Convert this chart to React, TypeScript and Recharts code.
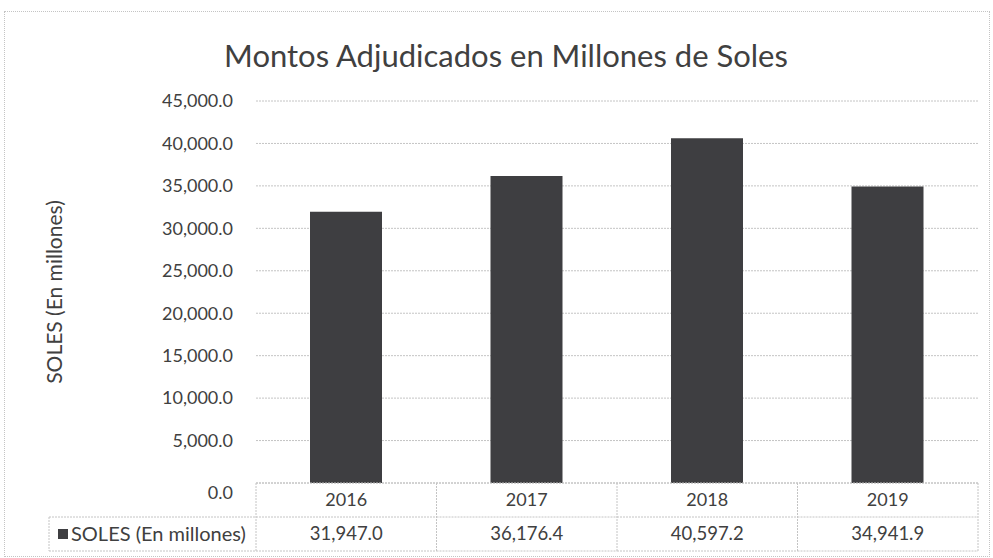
import React from 'react';
import { Bar, BarChart, CartesianGrid, XAxis, YAxis } from 'recharts';

const years = ['2016', '2017', '2018', '2019'];
const soles = [31947.0, 36176.4, 40597.2, 34941.9];
const yTicks = [0, 5000, 10000, 15000, 20000, 25000, 30000, 35000, 40000, 45000];

const seriesName = 'SOLES (En millones)';
const chartTitle = 'Montos Adjudicados en Millones de Soles';

const data = years.map((year, i) => ({ year, soles: soles[i] }));

const W = 993;
const H = 558;
const PLOT_LEFT = 256;
const PLOT_RIGHT = 978;
const BAND = (PLOT_RIGHT - PLOT_LEFT) / years.length;
const ROW = 34;
const LEGEND_LEFT = 49;

const FONT = 'Lato, "Open Sans", sans-serif';
const TEXT = '#404040';
const LINE = '#c4c4c4';
const BAR = '#3e3e41';

const fmt = (v: number) =>
  v.toLocaleString('en-US', { minimumFractionDigits: 1, maximumFractionDigits: 1 });

const YTick = (props: any) => {
  const { x, y, payload } = props;
  const shift = payload.value === 0 ? 10 : 0;
  return (
    <text x={x} y={y + shift} dy='0.35em' textAnchor='end' fontFamily={FONT} fontSize={18} fill={TEXT}>
      {fmt(payload.value)}
    </text>
  );
};

const TableTick = (props: any) => {
  const { x, y, index } = props;
  const left = x - BAND / 2;
  const right = x + BAND / 2;
  const i = index ?? 0;
  return (
    <g>
      <line x1={left} x2={right} y1={y + ROW} y2={y + ROW} stroke={LINE} strokeDasharray='2 1' />
      <line x1={left} x2={right} y1={y + 2 * ROW} y2={y + 2 * ROW} stroke={LINE} strokeDasharray='2 1' />
      <line x1={right} x2={right} y1={y} y2={y + 2 * ROW} stroke={LINE} strokeDasharray='2 1' />
      {i === 0 && (
        <g>
          <line x1={left} x2={left} y1={y} y2={y + 2 * ROW} stroke={LINE} strokeDasharray='2 1' />
          <line x1={LEGEND_LEFT} x2={left} y1={y + ROW} y2={y + ROW} stroke={LINE} strokeDasharray='2 1' />
          <line x1={LEGEND_LEFT} x2={left} y1={y + 2 * ROW} y2={y + 2 * ROW} stroke={LINE} strokeDasharray='2 1' />
          <line x1={LEGEND_LEFT} x2={LEGEND_LEFT} y1={y + ROW} y2={y + 2 * ROW} stroke={LINE} strokeDasharray='2 1' />
          <rect x={LEGEND_LEFT + 9} y={y + ROW + 12} width={10} height={10} fill={BAR} />
          <text x={LEGEND_LEFT + 22} y={y + ROW * 1.5} dy='0.35em' fontFamily={FONT} fontSize={20} fill={TEXT}>
            {seriesName}
          </text>
        </g>
      )}
      <text x={x} y={y + ROW / 2} dy='0.35em' textAnchor='middle' fontFamily={FONT} fontSize={18} fill={TEXT}>
        {years[i]}
      </text>
      <text x={x} y={y + ROW * 1.5} dy='0.35em' textAnchor='middle' fontFamily={FONT} fontSize={18.5} fill={TEXT}>
        {fmt(soles[i])}
      </text>
    </g>
  );
};

const YLabel = (props: any) => {
  const vb = props.viewBox || {};
  const cy = (vb.y ?? 0) + (vb.height ?? 0) / 2;
  return (
    <text
      x={55}
      y={cy}
      transform={`rotate(-90, 55, ${cy})`}
      textAnchor='middle'
      dy='0.35em'
      fontFamily={FONT}
      fontSize={21}
      fill={TEXT}
    >
      {seriesName}
    </text>
  );
};

export default function App() {
  return (
    <div style={{ position: 'absolute', left: 0, top: 0, width: W, height: H, background: '#fff' }}>
      <div
        style={{
          position: 'absolute',
          left: 4,
          top: 11,
          width: 984,
          height: 544,
          border: `1px dotted ${LINE}`,
        }}
      />
      <div
        style={{
          position: 'absolute',
          left: 0,
          width: 1012,
          top: 33,
          textAlign: 'center',
          fontFamily: FONT,
          fontSize: 31,
          lineHeight: '44px',
          color: TEXT,
        }}
      >
        {chartTitle}
      </div>
      <div style={{ position: 'absolute', left: 0, top: 0 }}>
        <BarChart width={W} height={H} data={data} margin={{ top: 101, right: W - PLOT_RIGHT, bottom: 0, left: 0 }}>
          <CartesianGrid vertical={false} stroke={LINE} strokeDasharray='2 1' />
          <XAxis
            dataKey='year'
            height={75}
            axisLine={{ stroke: LINE, strokeDasharray: '2 1' }}
            tickLine={false}
            tickSize={0}
            tickMargin={0}
            interval={0}
            tick={<TableTick />}
          />
          <YAxis
            width={PLOT_LEFT}
            domain={[0, 45000]}
            ticks={yTicks}
            axisLine={false}
            tickLine={false}
            tickSize={6}
            tickMargin={17}
            tick={<YTick />}
            label={{ content: <YLabel /> }}
          />
          <Bar dataKey='soles' fill={BAR} barSize={72} isAnimationActive={false} />
        </BarChart>
      </div>
    </div>
  );
}
